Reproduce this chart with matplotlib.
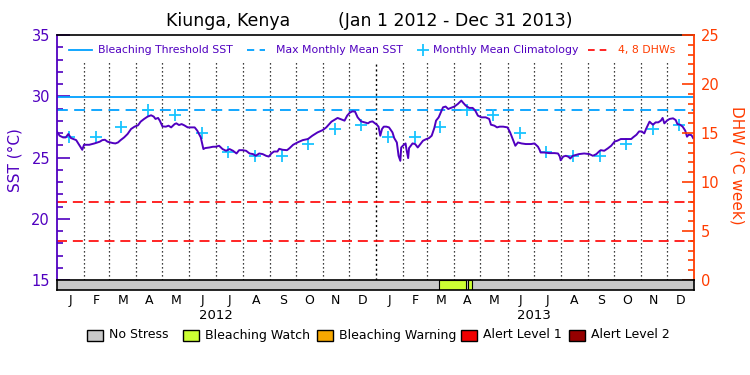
import numpy as np
import pandas as pd
import matplotlib
matplotlib.use('Agg')
import matplotlib.pyplot as plt
from matplotlib.patches import Rectangle
import matplotlib.transforms as mtransforms


# ---------------------------------------------- Data
start = pd.Timestamp('2012-01-01')
end = pd.Timestamp('2013-12-31')

# daily SST, sampled off the chart (day offset from Jan 1 2012, deg C)
sst_days = [
    0, 3, 7, 10, 13, 16, 22, 26, 29, 31, 37, 43, 49, 52, 55, 58, 64, 67, 70, 73,
    77, 81, 85, 89, 93, 96, 100, 104, 108, 111, 113, 116, 118, 121, 125, 128,
    131, 135, 137, 140, 143, 146, 150, 158, 161, 165, 168, 170, 175, 179, 182,
    186, 190, 194, 198, 202, 206, 209, 213, 217, 221, 225, 228, 232, 236, 240,
    243, 246, 249, 253, 255, 259, 264, 267, 271, 276, 282, 288, 293, 299, 305,
    309, 315, 318, 322, 326, 330, 333, 336, 339, 342, 345, 349, 353, 357, 359,
    362, 365, 367, 369, 371, 373, 375, 378, 381, 385, 387, 390, 392, 394, 395,
    398, 400, 401, 403, 404, 406, 408, 411, 414, 417, 420, 423, 427, 430, 433,
    435, 438, 441, 443, 446, 449, 452, 456, 460, 464, 466, 469, 473, 477, 480,
    483, 487, 492, 496, 498, 502, 505, 508, 512, 517, 520, 523, 526, 529, 533,
    538, 544, 548, 552, 554, 555, 559, 565, 571, 575, 577, 578, 581, 584, 587,
    589, 592, 596, 599, 605, 611, 615, 619, 622, 624, 628, 632, 636, 640, 643,
    647, 653, 659, 661, 665, 668, 671, 674, 676, 680, 682, 684, 687, 690, 693,
    695, 697, 700, 703, 707, 710, 712, 715, 718, 721, 723, 725, 728, 729, 730,
]
sst_vals = [
    27.11, 26.78, 26.64, 26.64, 26.92, 26.59, 26.42, 25.96, 25.63, 26.04, 26.04,
    26.15, 26.29, 26.42, 26.45, 26.29, 26.18, 26.15, 26.23, 26.42, 26.64, 26.92,
    27.33, 27.52, 27.63, 27.93, 28.15, 28.34, 28.45, 28.34, 28.15, 28.23, 28.01,
    27.54, 27.52, 27.60, 27.46, 27.73, 27.79, 27.65, 27.73, 27.63, 27.46, 27.46,
    27.19, 26.64, 25.69, 25.77, 25.82, 25.88, 25.88, 25.96, 25.69, 25.55, 25.69,
    25.55, 25.33, 25.60, 25.60, 25.55, 25.33, 25.28, 25.14, 25.33, 25.28, 25.14,
    25.08, 25.33, 25.49, 25.49, 25.71, 25.63, 25.60, 25.77, 26.04, 26.23, 26.42,
    26.51, 26.78, 27.05, 27.24, 27.46, 27.93, 28.06, 28.23, 28.12, 28.01, 28.42,
    28.66, 28.77, 28.75, 28.28, 27.95, 27.87, 27.79, 27.90, 27.95, 27.79, 27.68,
    27.52, 26.78, 27.33, 27.52, 27.52, 27.46, 27.05, 26.59, 26.23, 25.14, 24.73,
    25.82, 26.04, 26.15, 25.69, 24.95, 25.77, 25.96, 26.15, 26.10, 25.82, 26.10,
    26.37, 26.48, 26.59, 26.78, 27.41, 28.01, 28.28, 28.77, 29.10, 29.16, 28.96,
    29.05, 29.16, 29.37, 29.65, 29.48, 29.24, 29.05, 29.05, 28.83, 28.42, 28.28,
    28.28, 28.15, 27.68, 27.60, 27.46, 27.52, 27.52, 27.46, 27.05, 26.51, 25.96,
    26.23, 26.15, 26.10, 26.10, 26.15, 25.88, 25.60, 25.41, 25.41, 25.36, 25.36,
    25.33, 25.08, 24.78, 25.08, 25.14, 25.06, 24.92, 25.14, 25.22, 25.28, 25.33,
    25.28, 25.14, 25.28, 25.49, 25.60, 25.55, 25.74, 25.96, 26.31, 26.37, 26.51,
    26.51, 26.51, 26.64, 26.86, 27.13, 27.13, 26.97, 27.33, 27.93, 27.79, 27.68,
    27.87, 27.87, 28.01, 28.23, 27.79, 28.01, 28.15, 28.20, 28.06, 27.73, 27.68,
    27.52, 27.19, 26.70, 26.86, 26.83, 26.72, 26.59,
]

# monthly mean climatology (Jan..Dec), repeated each year
clim_vals = [26.64, 26.70, 27.52, 28.91, 28.50, 26.97,
             25.47, 25.14, 25.12, 26.09, 27.35, 27.65]
mmm = 28.9
threshold = 29.9
dhw_levels = [4, 8]

# stress bar: bleaching watch periods (day offsets)
watch_periods = [(438, 469), (472, 476)]

month_letters = ['J', 'F', 'M', 'A', 'M', 'J', 'J', 'A', 'S', 'O', 'N', 'D']
years = ['2012', '2013']

status_names = ['No Stress', 'Bleaching Watch', 'Bleaching Warning',
                'Alert Level 1', 'Alert Level 2']
status_colors = ['#c8c8c8', '#ccff33', '#f8a800', '#f00000', '#960000']

# ---------------------------------------------- Style
purple = '#5000c0'
cyan = '#00a0ff'
cross_col = '#18c4ff'
orange = '#ff3c00'
red = '#ff0000'
plt.rcParams['font.family'] = ['DejaVu Sans']

ndays = (end - start).days + 1
month_starts = pd.date_range(start, end, freq='MS')
month_days = np.array([(d - start).days for d in month_starts])
month_mid = np.array([(d - start).days + d.days_in_month / 2 for d in month_starts])
clim_x = np.array([(d - start).days + 14 for d in month_starts])
clim_y = clim_vals * 2

# ---------------------------------------------- Plot
fig = plt.figure(figsize=(7.5, 3.75), dpi=100)
ax = fig.add_axes([0.076, 0.2533, 0.8493, 0.6533])
ax.set_xlim(0, ndays)
ax.set_ylim(15, 35)

# month separators
top_v = 32.8
for d in month_days[1:]:
    if d == 366:
        ax.vlines(d, 15, top_v, color='black', lw=1.0, linestyles=[(0, (1.5, 2))])
    else:
        ax.vlines(d, 15, top_v, color='black', lw=0.9, linestyles=[(0, (1, 2.2))])

ax.axhline(threshold, color=cyan, lw=1.3)
ax.axhline(mmm, color=cyan, lw=1.3, linestyle=(0, (6, 3.5)))
for lev in dhw_levels:
    ax.axhline(15 + lev / 1.25, color=red, lw=1.2, linestyle=(0, (6, 3.5)))

ax.plot(clim_x, clim_y, linestyle='none', marker='+', ms=9, mew=1.3,
        color=cross_col, zorder=4)
ax.plot(sst_days, sst_vals, color=purple, lw=1.4, zorder=5)

ax.set_xticks([])
ax.set_yticks(np.arange(15, 36, 5))
ax.set_yticks(np.arange(15, 36, 1), minor=True)
ax.tick_params(axis='y', which='both', direction='in', colors=purple,
               labelsize=10.5, pad=5, left=True, right=False)
ax.tick_params(axis='y', which='major', length=9, width=1.2)
ax.tick_params(axis='y', which='minor', length=4.5, width=1.2)
ax.spines['bottom'].set_visible(False)
ax.spines['right'].set_visible(False)
ax.spines['left'].set_color(purple)
ax.spines['left'].set_linewidth(1.3)
ax.spines['top'].set_linewidth(1.2)

ax2 = ax.twinx()
ax2.set_ylim(0, 25)
ax2.set_yticks(np.arange(0, 26, 5))
ax2.set_yticks(np.arange(0, 26, 1), minor=True)
ax2.tick_params(axis='y', which='both', direction='in', colors=orange,
                labelsize=10.5, pad=5)
ax2.tick_params(axis='y', which='major', length=9, width=1.2)
ax2.tick_params(axis='y', which='minor', length=4.5, width=1.2)
for s in ['left', 'top', 'bottom']:
    ax2.spines[s].set_visible(False)
ax2.spines['right'].set_color(orange)
ax2.spines['right'].set_linewidth(1.3)

# legend inside the top of the plot
ly = 0.939
lfs = 7.8
ax.plot([0.019, 0.055], [ly, ly], color=cyan, lw=1.3, transform=ax.transAxes, clip_on=False)
ax.text(0.064, ly, 'Bleaching Threshold SST', color=purple, fontsize=lfs,
        va='center', transform=ax.transAxes)
ax.plot([0.298, 0.327], [ly, ly], color=cyan, lw=1.3, linestyle=(0, (4, 3)),
        transform=ax.transAxes, clip_on=False)
ax.text(0.344, ly, 'Max Monthly Mean SST', color=purple, fontsize=lfs,
        va='center', transform=ax.transAxes)
ax.plot([0.5746], [ly], marker='+', ms=9, mew=1.3, color=cross_col,
        transform=ax.transAxes, clip_on=False)
ax.text(0.590, ly, 'Monthly Mean Climatology', color=purple, fontsize=lfs,
        va='center', transform=ax.transAxes)
ax.plot([0.834, 0.868], [ly, ly], color=red, lw=1.2, linestyle=(0, (4, 3)),
        transform=ax.transAxes, clip_on=False)
ax.text(0.881, ly, '4, 8 DHWs', color=orange, fontsize=lfs,
        va='center', transform=ax.transAxes)

# stress bar
bar = fig.add_axes([0.076, 0.2267, 0.8493, 0.0267])
bar.set_xlim(0, ndays)
bar.set_ylim(0, 1)
bar.set_facecolor(status_colors[0])
for a, b in watch_periods:
    bar.add_patch(Rectangle((a, 0), b - a, 1, facecolor=status_colors[1],
                            edgecolor='black', lw=0.8))
bar.set_yticks([])
bar.set_xticks(month_mid)
bar.set_xticklabels(month_letters * 2, fontsize=9)
bar.tick_params(axis='x', length=0, pad=3)
for s in bar.spines.values():
    s.set_linewidth(1.2)

trans = mtransforms.blended_transform_factory(bar.transData, bar.transAxes)
for i, yr in enumerate(years):
    bar.text(month_mid[12 * i:12 * i + 12].mean(), -2.5, yr, fontsize=9.5,
             ha='center', va='center', transform=trans)

# status legend under the chart
box_x = [87, 183, 317, 461, 569]
for x, name, col in zip(box_x, status_names, status_colors):
    fig.add_artist(Rectangle((x / 750, 1 - 341 / 375), 16 / 750, 11.5 / 375,
                             facecolor=col, edgecolor='black', lw=1.0,
                             transform=fig.transFigure))
    fig.text((x + 22) / 750, 1 - 335 / 375, name, fontsize=9, va='center')

# titles
fig.text(228 / 750, 1 - 21 / 375, 'Kiunga, Kenya', fontsize=12.5,
         ha='center', va='center')
fig.text(455 / 750, 1 - 21 / 375, '(Jan 1 2012 - Dec 31 2013)', fontsize=12.5,
         ha='center', va='center')
fig.text(15 / 750, 1 - 160 / 375, 'SST (°C)', color=purple, fontsize=11,
         rotation=90, ha='center', va='center')
fig.text(737 / 750, 1 - 165 / 375, 'DHW (°C week)', color=orange, fontsize=11,
         rotation=270, ha='center', va='center')

fig.savefig('out.png', dpi=100)
